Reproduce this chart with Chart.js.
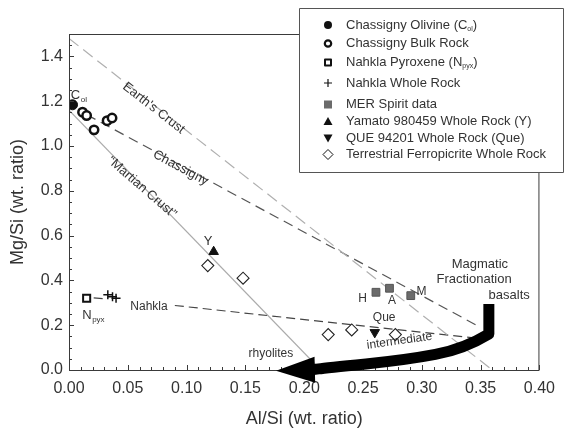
<!DOCTYPE html>
<html>
<head>
<meta charset="utf-8">
<script src="https://cdn.jsdelivr.net/npm/chart.js@4/dist/chart.umd.min.js"></script>
<style>
body{margin:0;background:#fff}
</style>
</head>
<body>
<canvas id="c" width="564" height="430"></canvas>
<script>
// tick labels
const xTicks = [0, 0.05, 0.10, 0.15, 0.20, 0.25, 0.30, 0.35, 0.40];
const yTicks = [0, 0.2, 0.4, 0.6, 0.8, 1.0, 1.2, 1.4];

// samples (Al/Si, Mg/Si)
const chassOlX = [0.003];
const chassOlY = [1.184];
const chassBulkX = [0.0115, 0.015, 0.0213, 0.0324, 0.0366];
const chassBulkY = [1.151, 1.136, 1.072, 1.113, 1.125];
const nPyxX = [0.015];
const nPyxY = [0.32];
const nWholeX = [0.033, 0.037, 0.040];
const nWholeY = [0.336, 0.327, 0.32];
const merX = [0.261, 0.2725, 0.2906];
const merY = [0.347, 0.365, 0.332];
const yamatoX = [0.123];
const yamatoY = [0.528];
const queX = [0.26];
const queY = [0.168];
const ferroX = [0.118, 0.148, 0.2204, 0.2404, 0.2775];
const ferroY = [0.466, 0.41, 0.158, 0.179, 0.158];

// trend lines
const earthX = [0, 0.36];
const earthY = [1.48, 0];
const chassLineX = [0.015, 0.35];
const chassLineY = [1.14, 0.19];
const martianX = [0, 0.214];
const martianY = [1.16, 0];
const nahklaX = [0.021, 0.03, 0.06, 0.09, 0.35];
const nahklaY = [0.322, 0.318, null, 0.288, 0.14];

// fractionation arrow path
const arrowX = [0.357, 0.357, 0.336, 0.287, 0.218, 0.2065];
const arrowY = [0.295, 0.161, 0.094, 0.045, 0.009, 0.001];
const arrowTip = [0.176, -0.003];

const FONT = '"Liberation Sans", Arial, sans-serif';

function pts(xs, ys){
  return xs.map((x, i) => ({x: x, y: ys[i]}));
}

function lineSet(xs, ys, color, dash, width){
  return {
    data: pts(xs, ys), showLine: true, pointRadius: 0, borderColor: color,
    borderWidth: width || 1.2, borderDash: dash, spanGaps: false, order: 10
  };
}

// text annotations, positioned in data units
const notes = [
  {t: "Earth's Crust", x: 0.072, y: 1.169, rot: 38, size: 13},
  {t: "Chassigny", x: 0.095, y: 0.902, rot: 28, size: 13},
  {t: "\u201CMartian Crust\u201D", x: 0.062, y: 0.815, rot: 41, size: 13},
  {t: "Nahkla", x: 0.068, y: 0.281, rot: 0, size: 12},
  {t: "rhyolites", x: 0.1717, y: 0.071, rot: 0, size: 12},
  {t: "intermediate", x: 0.281, y: 0.13, rot: -8, size: 12},
  {t: "Que", x: 0.268, y: 0.235, rot: 0, size: 12},
  {t: "H", x: 0.2496, y: 0.317, rot: 0, size: 12},
  {t: "A", x: 0.2747, y: 0.31, rot: 0, size: 12},
  {t: "M", x: 0.2997, y: 0.35, rot: 0, size: 12},
  {t: "Y", x: 0.1182, y: 0.575, rot: 0, size: 13},
  {t: "Magmatic", x: 0.3494, y: 0.47, rot: 0, size: 13},
  {t: "Fractionation", x: 0.3444, y: 0.406, rot: 0, size: 13},
  {t: "basalts", x: 0.3743, y: 0.332, rot: 0, size: 13}
];

const legendRows = [
  {style: 'dot', text: 'Chassigny Olivine (C', sub: 'ol', tail: ')'},
  {style: 'ring', text: 'Chassigny Bulk Rock'},
  {style: 'box', text: 'Nahkla Pyroxene (N', sub: 'pyx', tail: ')'},
  {style: 'plus', text: 'Nahkla Whole Rock'},
  {style: 'grey', text: 'MER Spirit data'},
  {style: 'up', text: 'Yamato 980459 Whole Rock (Y)'},
  {style: 'down', text: 'QUE 94201 Whole Rock (Que)'},
  {style: 'diamond', text: 'Terrestrial Ferropicrite Whole Rock'}
];
const legendRowY = [25, 43.5, 62.5, 83, 104.5, 121.5, 138, 154.5];

function marker(ctx, style, x, y){
  ctx.save();
  ctx.fillStyle = '#111';
  ctx.strokeStyle = '#111';
  ctx.beginPath();
  if (style === 'dot') { ctx.arc(x, y, 4, 0, Math.PI * 2); ctx.fill(); }
  if (style === 'ring') { ctx.lineWidth = 2.2; ctx.arc(x, y, 3.2, 0, Math.PI * 2); ctx.stroke(); }
  if (style === 'box') { ctx.lineWidth = 2; ctx.strokeRect(x - 3, y - 3, 6, 6); }
  if (style === 'plus') { ctx.lineWidth = 1.2; ctx.moveTo(x - 4, y); ctx.lineTo(x + 4, y); ctx.moveTo(x, y - 4); ctx.lineTo(x, y + 4); ctx.stroke(); }
  if (style === 'grey') { ctx.fillStyle = '#6b6b6b'; ctx.fillRect(x - 4, y - 4, 8, 8); }
  if (style === 'up') { ctx.moveTo(x, y - 4.5); ctx.lineTo(x + 4.5, y + 3.5); ctx.lineTo(x - 4.5, y + 3.5); ctx.closePath(); ctx.fill(); }
  if (style === 'down') { ctx.moveTo(x, y + 4.5); ctx.lineTo(x + 4.5, y - 3.5); ctx.lineTo(x - 4.5, y - 3.5); ctx.closePath(); ctx.fill(); }
  if (style === 'diamond') { ctx.lineWidth = 1; ctx.moveTo(x, y - 5); ctx.lineTo(x + 5, y); ctx.lineTo(x, y + 5); ctx.lineTo(x - 5, y); ctx.closePath(); ctx.stroke(); }
  ctx.restore();
}

const decor = {
  id: 'decor',
  afterDraw(chart){
    const {ctx, chartArea: a, scales: {x, y}} = chart;
    ctx.save();

    // frame
    ctx.strokeStyle = '#3a3a3a';
    ctx.lineWidth = 1;
    ctx.strokeRect(a.left + 0.5, a.top + 0.5, a.right - a.left - 1, a.bottom - a.top);

    // inward ticks
    ctx.beginPath();
    for (let i = 0; i <= 40; i++) {
      const px = Math.round(x.getPixelForValue(i / 100)) + 0.5;
      const len = i % 5 === 0 ? 5 : 3;
      ctx.moveTo(px, a.bottom); ctx.lineTo(px, a.bottom - len);
    }
    for (let i = 0; i <= 30; i++) {
      const py = Math.round(y.getPixelForValue(i * 0.05)) + 0.5;
      const len = i % 4 === 0 ? 5 : 3;
      ctx.moveTo(a.left, py); ctx.lineTo(a.left + len, py);
    }
    ctx.stroke();

    // text notes
    ctx.fillStyle = '#333';
    ctx.textAlign = 'center';
    ctx.textBaseline = 'middle';
    notes.forEach(n => {
      ctx.save();
      ctx.translate(x.getPixelForValue(n.x), y.getPixelForValue(n.y));
      ctx.rotate(n.rot * Math.PI / 180);
      ctx.font = n.size + 'px ' + FONT;
      ctx.fillText(n.t, 0, 0);
      ctx.restore();
    });

    // labels with subscripts
    ctx.textAlign = 'left';
    let cx = x.getPixelForValue(0.0015), cy = y.getPixelForValue(1.225);
    ctx.font = '13px ' + FONT;
    ctx.fillText('C', cx, cy);
    ctx.font = '8px ' + FONT;
    ctx.fillText('ol', cx + 10, cy + 4);
    cx = x.getPixelForValue(0.0112); cy = y.getPixelForValue(0.243);
    ctx.font = '13px ' + FONT;
    ctx.fillText('N', cx, cy);
    ctx.font = '8px ' + FONT;
    ctx.fillText('pyx', cx + 10, cy + 4);

    // fractionation arrow
    const p = arrowX.map((v, i) => [x.getPixelForValue(v), y.getPixelForValue(arrowY[i])]);
    ctx.strokeStyle = '#000';
    ctx.fillStyle = '#000';
    ctx.lineWidth = 11;
    ctx.lineJoin = 'round';
    ctx.beginPath();
    ctx.moveTo(p[0][0], p[0][1]);
    ctx.lineTo(p[1][0], p[1][1]);
    for (let i = 2; i < p.length - 1; i++) {
      const mx = (p[i][0] + p[i + 1][0]) / 2, my = (p[i][1] + p[i + 1][1]) / 2;
      ctx.quadraticCurveTo(p[i][0], p[i][1], mx, my);
    }
    const end = p[p.length - 1];
    ctx.lineTo(end[0], end[1]);
    ctx.stroke();
    const tx = x.getPixelForValue(arrowTip[0]), ty = y.getPixelForValue(arrowTip[1]);
    const dx = tx - end[0], dy = ty - end[1], d = Math.hypot(dx, dy);
    const nx = -dy / d * 13, ny = dx / d * 13;
    ctx.beginPath();
    ctx.moveTo(end[0] - 3 * dx / d + nx, end[1] + ny);
    ctx.lineTo(tx, ty);
    ctx.lineTo(end[0] - 3 * dx / d - nx, end[1] - ny);
    ctx.closePath();
    ctx.fill();

    // legend box
    ctx.lineWidth = 1;
    ctx.fillStyle = '#fff';
    ctx.strokeStyle = '#555';
    ctx.fillRect(299, 8, 264, 164);
    ctx.strokeRect(299.5, 8.5, 264, 164);
    ctx.textBaseline = 'middle';
    ctx.textAlign = 'left';
    legendRows.forEach((r, i) => {
      const ry = legendRowY[i];
      marker(ctx, r.style, 328, ry);
      ctx.fillStyle = '#333';
      ctx.font = '13px ' + FONT;
      ctx.fillText(r.text, 346, ry);
      if (r.sub) {
        let tx2 = 346 + ctx.measureText(r.text).width;
        ctx.font = '7px ' + FONT;
        ctx.fillText(r.sub, tx2, ry + 4);
        tx2 += ctx.measureText(r.sub).width;
        ctx.font = '13px ' + FONT;
        ctx.fillText(r.tail, tx2, ry);
      }
    });
    ctx.restore();
  }
};

new Chart(document.getElementById('c'), {
  type: 'scatter',
  data: {
    datasets: [
      {data: pts(chassOlX, chassOlY), pointStyle: 'circle', pointRadius: 5, backgroundColor: '#111', borderColor: '#111', order: 0},
      {data: pts(chassBulkX, chassBulkY), pointStyle: 'circle', pointRadius: 4.2, backgroundColor: '#fff', borderColor: '#111', borderWidth: 2.5, order: 0},
      {data: pts(nPyxX, nPyxY), pointStyle: 'rect', pointRadius: 5, backgroundColor: '#fff', borderColor: '#111', borderWidth: 2, order: 0},
      {data: pts(nWholeX, nWholeY), pointStyle: 'cross', pointRadius: 4.5, borderColor: '#111', borderWidth: 1.5, order: 0},
      {data: pts(merX, merY), pointStyle: 'rect', pointRadius: 5.5, backgroundColor: '#6b6b6b', borderColor: '#555', borderWidth: 1, order: 0},
      {data: pts(yamatoX, yamatoY), pointStyle: 'triangle', pointRadius: 5.5, backgroundColor: '#111', borderColor: '#111', order: 0},
      {data: pts(queX, queY), pointStyle: 'triangle', rotation: 180, pointRadius: 5.5, backgroundColor: '#111', borderColor: '#111', order: 0},
      {data: pts(ferroX, ferroY), pointStyle: 'rectRot', pointRadius: 6, backgroundColor: '#fff', borderColor: '#222', borderWidth: 1.1, order: 0},
      lineSet(earthX, earthY, '#b0b0b0', [12, 6]),
      lineSet(chassLineX, chassLineY, '#555', [10, 6]),
      lineSet(martianX, martianY, '#aaa', []),
      lineSet(nahklaX, nahklaY, '#444', [9, 5])
    ]
  },
  options: {
    responsive: false,
    devicePixelRatio: 1,
    animation: false,
    layout: {padding: {top: 34, right: 16, left: 0, bottom: 0}},
    plugins: {legend: {display: false}, tooltip: {enabled: false}},
    scales: {
      x: {
        type: 'linear', min: 0, max: 0.4,
        afterBuildTicks: s => { s.ticks = xTicks.map(v => ({value: v})); },
        afterFit: s => { s.height = 60; },
        grid: {display: false, drawTicks: false},
        border: {display: false},
        ticks: {padding: 9, color: '#333', font: {family: FONT, size: 16}, callback: v => v.toFixed(2), maxRotation: 0},
        title: {display: true, text: 'Al/Si (wt. ratio)', color: '#333', font: {family: FONT, size: 18}, padding: {top: 0, bottom: 0}}
      },
      y: {
        type: 'linear', min: 0, max: 1.5,
        afterBuildTicks: s => { s.ticks = yTicks.map(v => ({value: v})); },
        afterFit: s => { s.width = 69; },
        grid: {display: false, drawTicks: false},
        border: {display: false},
        ticks: {padding: 6, color: '#333', font: {family: FONT, size: 16}, callback: v => v.toFixed(1)},
        title: {display: true, text: 'Mg/Si (wt. ratio)', color: '#333', font: {family: FONT, size: 18}, padding: {top: 7, bottom: 0}}
      }
    }
  },
  plugins: [decor]
});
</script>
</body>
</html>
